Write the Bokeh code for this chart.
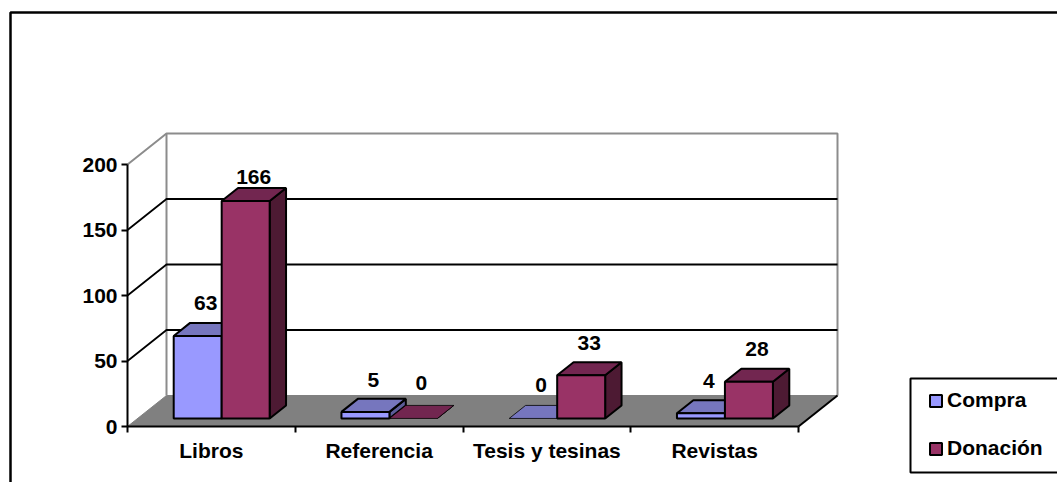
from bokeh.plotting import figure
from bokeh.models import (Range1d, LinearAxis, FixedTicker, BoxAnnotation, Legend, LegendItem)
from bokeh.core.properties import value
from bokeh.embed import file_html
from bokeh.resources import INLINE

categories = ["Libros", "Referencia", "Tesis y tesinas", "Revistas"]
compra = [63, 5, 0, 4]
donacion = [166, 0, 33, 28]
y_ticks = [0, 50, 100, 150, 200]
series_names = ["Compra", "Donación"]

W, H = 1057, 482
FONT = "Liberation Sans"
FS = "21px"
# pixel layout of the plot box
X0, PX_CAT = 127.0, 167.75
Y0, PX_VAL = 426.0, 1.31
DX, DY = 39 / PX_CAT, 31 / PX_VAL      # depth of the floor in data units

p = figure(width=W, height=H, output_backend="svg", toolbar_location=None,
           x_range=Range1d(-X0 / PX_CAT, (W - X0) / PX_CAT),
           y_range=Range1d(-(H - Y0) / PX_VAL, Y0 / PX_VAL),
           x_axis_type=None, y_axis_type=None, min_border=0, outline_line_color=None,
           background_fill_color="white")
p.grid.visible = False

n = len(categories)
top = y_ticks[-1]

# floor
p.patch([0, n, n + DX, DX], [0, 0, DY, DY], fill_color="#808080", line_color="#808080", line_width=1)
# walls
p.line([0, DX, n + DX, n + DX], [top, top + DY, top + DY, DY], line_color="#8c8c8c", line_width=2)
p.line([DX, DX], [DY, top + DY], line_color="#8c8c8c", line_width=2)
p.line([n + DX, n], [DY, 0], line_color="black", line_width=2)
# gridlines on the walls
for g in y_ticks[1:-1]:
    p.line([0, DX, n + DX], [g, g + DY, g + DY], line_color="black", line_width=1.8)

# bars
GAP, BW = 0.215, 0.286
F0, F1 = 0.26, 0.68
LW = 2


def box(values, shift, front, topc, side):
    rend = None
    for i, v in enumerate(values):
        l = i + GAP + F0 * DX + shift * BW
        r = l + BW
        b0 = F0 * DY
        t0 = b0 + v
        ox, oy = (F1 - F0) * DX, (F1 - F0) * DY
        p.patch([r, r + ox, r + ox, r], [b0, b0 + oy, t0 + oy, t0],
                fill_color=side, line_color="black", line_width=LW if v else 0.8)
        p.patch([l, r, r + ox, l + ox], [t0, t0, t0 + oy, t0 + oy],
                fill_color=topc, line_color="black", line_width=LW if v else 0.8)
        if v:
            q = p.quad(left=[l], right=[r], bottom=[b0], top=[t0],
                       fill_color=front, line_color="black", line_width=LW)
            rend = rend or q
    return rend


r1 = box(compra, 0, "#9999FF", "#7676BE", "#5C5C99")
r2 = box(donacion, 1, "#993366", "#722650", "#4D1A33")

# data labels (small per-label pixel nudges: first Compra, then Donación)
nudge_y = [33, 32, 33, 32, 24, 35, 32, 33]
lx, ly, lt = [], [], []
k = 0
for s, values in enumerate((compra, donacion)):
    for i, v in enumerate(values):
        lx.append(i + GAP + F0 * DX + (s + 0.5) * BW + 8 / PX_CAT)
        ly.append(F0 * DY + v + nudge_y[k] / PX_VAL)
        lt.append(str(v))
        k += 1
p.text(lx, ly, text=lt, text_align="center", text_baseline="middle", text_font=value(FONT),
       text_font_style="bold", text_font_size=FS, text_color="black")

# axes
ya = LinearAxis(ticker=FixedTicker(ticks=y_ticks), bounds=(0, top), fixed_location=0,
                major_tick_in=0, major_tick_out=6, minor_tick_line_color=None,
                axis_line_color="black", axis_line_width=2, major_tick_line_width=2,
                major_label_standoff=4, major_label_text_font=FONT, major_label_text_font_style="bold",
                major_label_text_font_size=FS, major_label_text_color="black")
p.add_layout(ya, "left")
xa = LinearAxis(ticker=FixedTicker(ticks=[i + 0.5 for i in range(n)], minor_ticks=list(range(n + 1))),
                bounds=(0, n), fixed_location=0,
                major_label_overrides={i + 0.5: c for i, c in enumerate(categories)},
                major_tick_line_color=None, major_tick_in=0, major_tick_out=0,
                minor_tick_in=0, minor_tick_out=6, minor_tick_line_color="black", minor_tick_line_width=2,
                axis_line_color="black", axis_line_width=2,
                major_label_standoff=6, major_label_text_font=FONT, major_label_text_font_style="bold",
                major_label_text_font_size=FS, major_label_text_color="black")
p.add_layout(xa, "below")

# outer frame and legend box (screen y counts from the bottom)
p.add_layout(BoxAnnotation(left=10, top=H - 12, right=W + 20, bottom=-20, left_units="screen", right_units="screen",
                           top_units="screen", bottom_units="screen", fill_alpha=0,
                           line_color="black", line_alpha=1, line_width=2.5))
p.add_layout(BoxAnnotation(left=910, top=H - 378, right=W + 20, bottom=H - 472, left_units="screen", right_units="screen",
                           top_units="screen", bottom_units="screen", fill_color="white", fill_alpha=1,
                           line_color="black", line_alpha=1, line_width=2, level="overlay"))
leg = Legend(items=[LegendItem(label=series_names[0], renderers=[r1]),
                    LegendItem(label=series_names[1], renderers=[r2])],
             location=(928, 22), orientation="vertical", padding=0, margin=0, spacing=24,
             border_line_color=None, background_fill_alpha=0, glyph_width=15, glyph_height=15,
             label_standoff=4, label_text_font=FONT, label_text_font_style="bold",
             label_text_font_size=FS, label_text_color="black", label_height=24)
p.add_layout(leg, "center")

open("out.html", "w").write(file_html(p, INLINE))
